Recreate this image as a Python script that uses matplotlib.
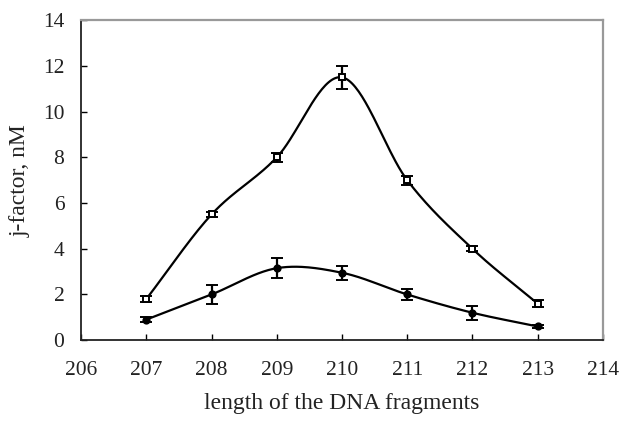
import matplotlib
matplotlib.use("Agg")
import matplotlib.pyplot as plt
import numpy as np

plt.rcParams['font.family'] = ['Liberation Serif', 'DejaVu Serif']

length = [207, 208, 209, 210, 211, 212, 213]
upper = [1.8, 5.5, 8.0, 11.5, 7.0, 4.0, 1.6]
upper_err = [0.15, 0.1, 0.2, 0.5, 0.2, 0.1, 0.15]
lower = [0.9, 2.0, 3.15, 2.95, 2.0, 1.2, 0.6]
lower_err = [0.1, 0.4, 0.45, 0.3, 0.25, 0.3, 0.05]


def smooth(x, y, n=40):
    # catmull-rom style curve through the points (like excel "smoothed line")
    x = np.asarray(x, float)
    y = np.asarray(y, float)
    px = np.concatenate([[2 * x[0] - x[1]], x, [2 * x[-1] - x[-2]]])
    py = np.concatenate([[2 * y[0] - y[1]], y, [2 * y[-1] - y[-2]]])
    xs, ys = [], []
    t = np.linspace(0, 1, n)
    for i in range(1, len(px) - 2):
        for arr, out in ((px, xs), (py, ys)):
            p0, p1, p2, p3 = arr[i - 1], arr[i], arr[i + 1], arr[i + 2]
            out.extend(0.5 * ((2 * p1) + (-p0 + p2) * t
                              + (2 * p0 - 5 * p1 + 4 * p2 - p3) * t ** 2
                              + (-p0 + 3 * p1 - 3 * p2 + p3) * t ** 3))
    return np.array(xs), np.array(ys)


fig = plt.figure(figsize=(6.19, 4.21), dpi=100)
ax = fig.add_axes([0.131, 0.192, 0.843, 0.760])

for ys, es, mk, fc, ms in ((upper, upper_err, 's', 'white', 4.5), (lower, lower_err, 'o', 'black', 4.5)):
    sx, sy = smooth(length, ys)
    ax.plot(sx, sy, color='black', lw=1.6, zorder=2)
    ax.errorbar(length, ys, yerr=es, fmt=mk, ms=ms, mfc=fc, mec='black', mew=1.4,
                ecolor='black', elinewidth=1.6, capsize=4, capthick=1.6, zorder=3)

ax.set_xlim(206, 214)
ax.set_ylim(0, 14)
ax.set_xticks(range(206, 215))
ax.set_yticks(range(0, 15, 2))
ax.tick_params(direction='in', length=4, width=1, labelsize=15.5, colors='black',
               labelcolor='#222222')
ax.tick_params(axis='x', pad=15)
ax.tick_params(axis='y', pad=12)
for s in ('left', 'bottom'):
    ax.spines[s].set_color('#222222')
    ax.spines[s].set_linewidth(1.3)
for s in ('top', 'right'):
    ax.spines[s].set_color('#999999')
    ax.spines[s].set_linewidth(1.6)

ax.set_xlabel('length of the DNA fragments', fontsize=17, labelpad=9, color='#222222')
ax.set_ylabel('j-factor, nM', fontsize=17, labelpad=9, color='#222222')

fig.savefig('out.png', dpi=100)
